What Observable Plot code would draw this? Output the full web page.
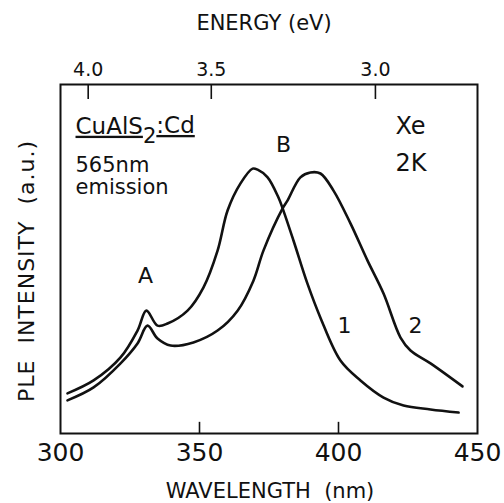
<!DOCTYPE html>
<html>
<head>
<meta charset="utf-8">
<script src="https://cdn.jsdelivr.net/npm/d3@7"></script>
<script src="https://cdn.jsdelivr.net/npm/@observablehq/plot@0.6"></script>
<style>
  html, body { margin: 0; padding: 0; background: #fff; }
  svg { display: block; }
</style>
</head>
<body>
<div id="chart"></div>
<script>
// ---- data ----
const curve1Wavelength = [302.5, 311.9, 321.6, 327.7, 330.9, 334.9, 338.5, 345.7, 351.4, 356.5, 360.1, 364.7, 369.1, 370.9, 374.5, 378.4, 379.9, 383.8, 388.8, 393.5, 400.7, 407.9, 416.2, 423.4, 433.1, 443.2];
const curve1Intensity  = [11.5, 15.2, 21.8, 29.5, 35.2, 30.9, 31.5, 35.2, 41.8, 52.4, 63.9, 71.6, 75.9, 75.6, 73.4, 67.6, 64.5, 55.3, 43.0, 33.2, 20.9, 15.2, 10.3, 8.0, 6.9, 6.0];
const curve2Wavelength = [302.5, 311.9, 321.6, 327.7, 331.3, 334.9, 339.6, 347.8, 356.5, 363.7, 369.4, 373.0, 379.9, 381.7, 386.3, 389.9, 393.5, 398.2, 404.3, 410.4, 416.2, 422.3, 425.9, 433.1, 444.6];
const curve2Intensity  = [9.5, 13.2, 20.1, 25.8, 30.9, 27.2, 25.2, 26.1, 29.5, 35.2, 43.8, 52.4, 64.5, 66.8, 73.4, 74.8, 74.5, 69.6, 60.2, 49.6, 40.1, 27.5, 23.8, 20.1, 13.5];

const wavelengthTicks = [300, 350, 400, 450];
const wavelengthInnerTicks = [350, 400];
const energyTicks = [4.0, 3.5, 3.0];
const hc = 1239.84; // eV*nm

const peakLabels = ["A", "B", "1", "2"];
const peakLabelWavelength = [330.6, 380.2, 402.2, 427.7];
const peakLabelIntensity = [45.0, 82.8, 30.9, 30.7];

const condLabels = ["Xe", "2K"];
const condLabelWavelength = [420.5, 420.5];
const condLabelIntensity = [88.0, 77.4];

const sampleLabels = ["565nm", "emission"];
const sampleLabelWavelength = [305.4, 305.4];
const sampleLabelIntensity = [76.9, 70.6];

const compound = ["CuAlS", "2", ":Cd"];
const compoundWavelength = 305.4;
const compoundIntensity = 88.0;

// ---- tables ----
const series = [
  ...curve1Wavelength.map((w, i) => ({curve: "1", w, I: curve1Intensity[i]})),
  ...curve2Wavelength.map((w, i) => ({curve: "2", w, I: curve2Intensity[i]}))
];
const peaks = peakLabels.map((t, i) => ({t, w: peakLabelWavelength[i], I: peakLabelIntensity[i]}));
const conds = condLabels.map((t, i) => ({t, w: condLabelWavelength[i], I: condLabelIntensity[i]}));
const samples = sampleLabels.map((t, i) => ({t, w: sampleLabelWavelength[i], I: sampleLabelIntensity[i]}));
const compoundText = compound.join("");

const chart = Plot.plot({
  width: 504,
  height: 503,
  marginLeft: 60,
  marginRight: 27,
  marginTop: 84,
  marginBottom: 70,
  style: {fontFamily: "DejaVu Sans", color: "#111", background: "#fff"},
  x: {domain: [300, 450], axis: null},
  y: {domain: [0, 100], axis: null},
  marks: [
    Plot.frame({stroke: "#111", strokeWidth: 2}),
    // inward tick marks
    Plot.ruleX(wavelengthInnerTicks, {x: d => d, y1: () => 0, y2: () => 3.2, stroke: "#111", strokeWidth: 1.6}),
    Plot.ruleX(energyTicks, {x: e => hc / e, y1: () => 100, y2: () => 95.7, stroke: "#111", strokeWidth: 1.6}),
    // tick labels
    Plot.axisX({anchor: "bottom", ticks: wavelengthTicks, tickSize: 0, tickPadding: 10, fontSize: 25, label: null}),
    Plot.axisX({anchor: "top", ticks: energyTicks.map(e => hc / e), tickFormat: d => (hc / d).toFixed(1), tickSize: 0, tickPadding: 9, fontSize: 19, label: null}),
    Plot.line(series, {x: "w", y: "I", z: "curve", stroke: "#111", strokeWidth: 2.6, curve: "catmull-rom"}),
    Plot.text(peaks, {x: "w", y: "I", text: "t", fontSize: 22, fill: "#111"}),
    Plot.text(conds, {x: "w", y: "I", text: "t", fontSize: 24, textAnchor: "start", fill: "#111"}),
    Plot.text(samples, {x: "w", y: "I", text: "t", fontSize: 21, textAnchor: "start", fill: "#111"}),
    Plot.text([compoundText], {x: () => compoundWavelength, y: () => compoundIntensity, text: d => d, fontSize: 23, textAnchor: "start", fill: "#111"}),
    Plot.text(["ENERGY (eV)"], {frameAnchor: "top", lineAnchor: "middle", textAnchor: "middle", dy: -61, dx: -5, fontSize: 21, fill: "#111"}),
    Plot.text(["WAVELENGTH\u00a0 (nm)"], {frameAnchor: "bottom", lineAnchor: "middle", textAnchor: "middle", dy: 58, dx: 1, fontSize: 21, fill: "#111"}),
    Plot.text(["PLE\u00a0 INTENSITY\u00a0 (a.u.)"], {frameAnchor: "left", lineAnchor: "middle", textAnchor: "middle", rotate: -90, dx: -34, dy: 12, fontSize: 22, fill: "#111"})
  ]
});

// compound label with subscript and underline
d3.select(chart).selectAll("text").filter(function() { return this.textContent === compoundText; })
  .each(function() {
    const t = d3.select(this);
    t.text(null);
    t.append("tspan").attr("text-decoration", "underline").text(compound[0]);
    t.append("tspan").attr("dy", "0.42em").attr("font-size", "0.92em").text(compound[1]);
    t.append("tspan").attr("dy", "-0.42em").attr("text-decoration", "underline").text(compound[2]);
  });
d3.select(chart).selectAll("text").filter(function() { return this.textContent.startsWith("PLE"); })
  .style("letter-spacing", "1px");

document.getElementById("chart").appendChild(chart);
</script>
</body>
</html>
